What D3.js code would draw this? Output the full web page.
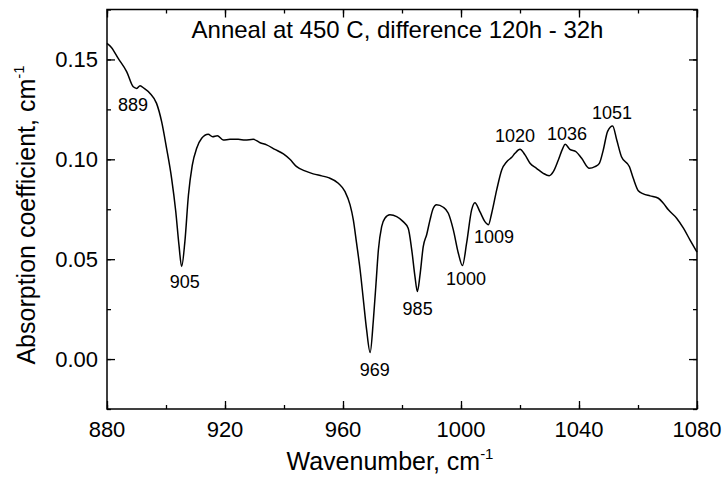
<!DOCTYPE html>
<html>
<head>
<meta charset="utf-8">
<script src="https://cdn.jsdelivr.net/npm/d3@7"></script>
<style>
  body { margin: 0; background: #fff; }
  text { font-family: "Liberation Sans", Arial, sans-serif; fill: #000; }
</style>
</head>
<body>
<div id="chart"></div>
<script>
// wavenumber (cm-1) and absorption coefficient
var wavenumber = [880.0, 881.5, 883.8, 886.7, 888.9, 890.1, 891.2, 892.6, 894.6, 896.8,
  898.5, 900.2, 901.9, 903.3, 904.4, 905.3, 906.4, 907.6, 908.9, 910.4,
  912.1, 914.3, 915.8, 917.4, 919.4, 921.7, 924.5, 926.8, 929.6, 931.9,
  934.1, 936.9, 939.8, 942.0, 944.3, 947.1, 949.9, 952.8, 955.3, 958.4,
  960.7, 962.4, 963.5, 964.6, 965.8, 966.9, 968.0, 969.2, 970.3, 971.2,
  972.0, 973.1, 974.2, 975.9, 978.2, 980.4, 982.1, 983.3, 984.4, 985.2,
  986.1, 987.2, 988.4, 989.5, 990.6, 991.7, 994.0, 995.7, 997.4, 999.1,
  1000.5, 1001.9, 1003.6, 1004.7, 1006.4, 1008.1, 1009.3, 1010.4, 1012.1, 1013.8,
  1015.5, 1017.2, 1018.3, 1020.0, 1021.7, 1023.4, 1025.6, 1027.9, 1029.9, 1031.3,
  1033.0, 1034.5, 1035.3, 1036.9, 1039.0, 1040.9, 1043.5, 1045.4, 1046.9, 1048.2,
  1049.7, 1051.4, 1052.8, 1054.4, 1057.1, 1058.4, 1060.1, 1061.8, 1064.1, 1066.9,
  1068.6, 1070.3, 1073.1, 1075.4, 1077.6, 1080.0];
var absorption = [0.158, 0.156, 0.1505, 0.1438, 0.1363, 0.1355, 0.1368, 0.1355, 0.133, 0.128,
  0.119, 0.1055, 0.0905, 0.074, 0.057, 0.0463, 0.0588, 0.082, 0.097, 0.1055,
  0.1105, 0.1125, 0.1113, 0.1118, 0.1097, 0.110, 0.110, 0.1097, 0.110, 0.1083,
  0.1072, 0.105, 0.1027, 0.100, 0.0963, 0.0942, 0.0927, 0.0917, 0.0907, 0.088,
  0.0838, 0.0772, 0.0697, 0.058, 0.0447, 0.0297, 0.0147, 0.0033, 0.0197, 0.038,
  0.0547, 0.0663, 0.0705, 0.0722, 0.0713, 0.0688, 0.0655, 0.0547, 0.0413, 0.0338,
  0.042, 0.0563, 0.0625, 0.0697, 0.0755, 0.0772, 0.076, 0.073, 0.0647, 0.053,
  0.0468, 0.058, 0.0747, 0.0783, 0.0738, 0.0688, 0.0672, 0.073, 0.0847, 0.0947,
  0.0988, 0.101, 0.103, 0.105, 0.1022, 0.098, 0.0955, 0.093, 0.0918, 0.0938,
  0.0997, 0.1055, 0.1075, 0.105, 0.1038, 0.1005, 0.0955, 0.0963, 0.098, 0.1045,
  0.114, 0.1167, 0.1097, 0.1013, 0.0963, 0.0905, 0.0843, 0.0827, 0.0817, 0.0805,
  0.078, 0.0747, 0.0705, 0.0655, 0.0597, 0.0535];

// peak labels: text, wavenumber where it is centred, value at its baseline
var peakNames = ["889", "905", "969", "985", "1000", "1009", "1020", "1036", "1051"];
var peakX = [888.8, 906.4, 970.8, 985.3, 1001.7, 1011.2, 1018.3, 1035.9, 1051.2];
var peakY = [0.1240, 0.0355, -0.0087, 0.0222, 0.0372, 0.0580, 0.1088, 0.1097, 0.1202];

var xTicks = [880, 920, 960, 1000, 1040, 1080];
var yTicks = [0.00, 0.05, 0.10, 0.15];

var W = 724, H = 477;
var margin = {top: 9.5, right: 27, bottom: 68, left: 107};
var iw = W - margin.left - margin.right, ih = H - margin.top - margin.bottom;

var svg = d3.select('#chart').append('svg').attr('width', W).attr('height', H);
var g = svg.append('g').attr('transform', 'translate(' + margin.left + ',' + margin.top + ')');

var x = d3.scaleLinear().domain([880, 1080]).range([0, iw]);
var y = d3.scaleLinear().domain([-0.025, 0.175]).range([ih, 0]);

var minorX = d3.range(880, 1081, 20), minorY = d3.range(-0.025, 0.176, 0.025);

function frameAxis(axis, tr, major, minor, sizeMajor, sizeMinor) {
  var a = g.append('g').attr('transform', tr);
  a.call(axis.tickValues(minor).tickSize(sizeMinor).tickFormat(''));
  a.call(function (s) { s.select('.domain').remove(); });
  var b = g.append('g').attr('transform', tr);
  b.call(axis.tickValues(major).tickSize(sizeMajor).tickFormat(''));
  b.select('.domain').remove();
  g.selectAll('.tick line').attr('stroke', '#000').attr('stroke-width', 1.3);
}
// ticks pointing inward on all four sides
frameAxis(d3.axisBottom(x), 'translate(0,' + ih + ')', xTicks, minorX, -8, -4);
frameAxis(d3.axisTop(x), 'translate(0,0)', xTicks, minorX, -8, -4);
frameAxis(d3.axisLeft(y), 'translate(0,0)', yTicks, minorY, -8, -4);
frameAxis(d3.axisRight(y), 'translate(' + iw + ',0)', yTicks, minorY, -8, -4);

g.append('rect').attr('width', iw).attr('height', ih)
  .attr('fill', 'none').attr('stroke', '#000').attr('stroke-width', 1.5);

// tick labels
g.selectAll('.xl').data(xTicks).enter().append('text')
  .attr('x', function (d) { return x(d); }).attr('y', ih + 28)
  .attr('text-anchor', 'middle').style('font-size', '22px')
  .text(function (d) { return d; });
g.selectAll('.yl').data(yTicks).enter().append('text')
  .attr('x', -9).attr('y', function (d) { return y(d) + 7.8; })
  .attr('text-anchor', 'end').style('font-size', '22px')
  .text(function (d) { return d.toFixed(2); });

// spectrum
var pts = wavenumber.map(function (w, i) { return [w, absorption[i]]; });
var line = d3.line().x(function (d) { return x(d[0]); }).y(function (d) { return y(d[1]); })
  .curve(d3.curveMonotoneX);
g.append('path').datum(pts).attr('d', line)
  .attr('fill', 'none').attr('stroke', '#000').attr('stroke-width', 1.5);

// peak labels
g.selectAll('.pk').data(peakNames).enter().append('text')
  .attr('x', function (d, i) { return x(peakX[i]); })
  .attr('y', function (d, i) { return y(peakY[i]); })
  .attr('text-anchor', 'middle').style('font-size', '18px')
  .text(function (d) { return d; });

// title inside the frame
g.append('text').attr('x', 290.5).attr('y', 28)
  .attr('text-anchor', 'middle').style('font-size', '24px')
  .text('Anneal at 450 C, difference 120h - 32h');

// axis titles
var xt = svg.append('text').attr('x', 390).attr('y', 470)
  .attr('text-anchor', 'middle').style('font-size', '25px');
xt.append('tspan').text('Wavenumber, cm');
xt.append('tspan').attr('dy', -11).style('font-size', '15px').text('-1');

var yt = svg.append('text')
  .attr('transform', 'translate(35,215) rotate(-90)')
  .attr('text-anchor', 'middle').style('font-size', '25px');
yt.append('tspan').text('Absorption coefficient, cm');
yt.append('tspan').attr('dy', -11).style('font-size', '15px').text('-1');
</script>
</body>
</html>
